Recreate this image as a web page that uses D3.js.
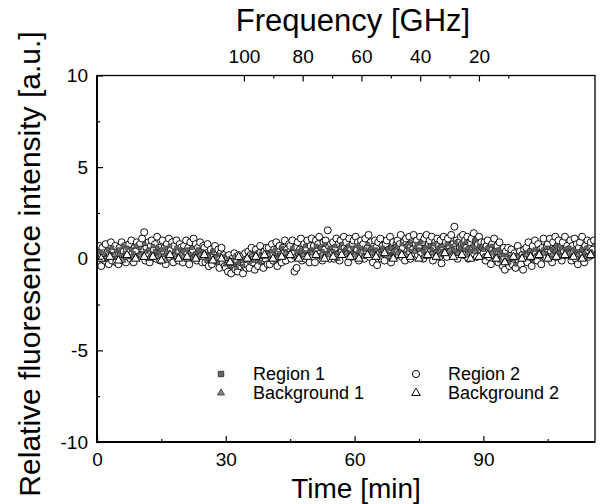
<!DOCTYPE html>
<html lang="en">
<head>
  <meta charset="UTF-8">
  <title>Relative fluorescence intensity vs time</title>
  <script src="https://d3js.org/d3.v7.min.js"></script>
  <style>
    body { margin: 0; background: #fff; }
    text { font-family: "Liberation Sans", Arial, sans-serif; fill: #000; }
  </style>
</head>
<body>
  <svg id="chart" width="601" height="504"></svg>

  <script>
    // Region 2 (open circles), one point every 0.25 min starting at t = 0
    const region2Step = 0.25;
    const region2 = [
      0.5, -0.2, 0.7, 0.1, -0.4, 0.6, 0.3, -0.1, 0.8, 0.0, 0.4, -0.3, 0.2, 0.9, -0.1, 0.5, 0.1, 0.7, -0.2, 0.3,
      -0.3, 0.6, 0.2, 0.9, -0.1, 0.4, 0.7, -0.2, 0.5, 0.1, 0.8, 0.0, 1.0, 0.3, -0.2, 0.6, 0.4, 0.9, 0.1, 0.7,
      0.8, 0.2, 1.1, 0.5, 1.45, -0.1, 0.6, 0.3, 0.9, -0.2, 0.7, 1.0, 0.1, 0.5, 0.8, 0.0, 1.2, 0.4, 0.6, -0.1,
      0.4, 1.0, 0.0, 0.6, -0.3, 0.8, 0.3, 1.1, 0.1, 0.5, 0.9, -0.2, 0.7, 0.2, 1.0, 0.4, -0.1, 0.8, 0.6, 0.2,
      -0.2, 0.7, 0.4, 1.0, 0.0, 0.6, -0.3, 0.9, 0.3, 0.5, 1.1, 0.1, 0.8, -0.1, 0.6, 0.2, 0.9, 0.4, -0.2, 0.7,
      0.6, -0.2, 0.3, 0.8, -0.4, 0.2, 0.5, -0.3, 0.1, 0.4, 0.7, -0.1, 0.0, 0.5, -0.5, 0.3, 0.6, -0.2, 0.2, -0.4,
      -0.5, 0.1, -0.7, 0.2, -0.3, -0.8, 0.0, -0.4, 0.3, -0.6, -0.1, -0.7, 0.2, -0.4, -0.2, 0.1, -0.8, -0.3, 0.3, -0.5,
      -0.3, 0.4, -0.5, 0.2, 0.6, -0.2, 0.1, -0.6, 0.5, 0.0, -0.4, 0.3, 0.7, -0.1, 0.2, -0.5, 0.4, 0.0, 0.6, -0.3,
      0.6, -0.3, 0.3, 0.8, -0.1, 0.5, 0.0, 0.9, -0.4, 0.4, 0.7, 0.1, -0.2, 0.6, 0.3, 1.0, -0.1, 0.5, 0.2, 0.8,
      0.7, 0.0, 1.0, 0.3, -0.7, 0.6, -0.5, 0.9, 0.2, 0.5, 1.1, -0.1, 0.4, 0.8, 0.0, 0.6, 1.0, 0.2, -0.2, 0.7,
      1.1, 0.1, 0.7, -0.2, 1.0, 0.4, 0.8, 1.2, 0.3, 0.6, -0.1, 0.9, 0.5, 1.0, 0.2, 1.55, 0.7, 0.0, 0.8, 0.4,
      0.9, 0.0, 0.6, 1.1, 0.2, 0.8, -0.1, 1.0, 0.4, 0.7, 1.2, 0.3, 0.9, 0.5, -0.2, 1.1, 0.6, 0.1, 0.8, 1.0,
      0.2, 1.2, 0.5, 0.9, -0.1, 0.7, 1.0, 0.3, 0.8, 0.0, 1.1, 0.4, 0.6, 1.3, 0.1, 0.9, 0.5, -0.2, 0.7, 1.0,
      0.6, -0.35, 0.9, 0.3, 1.1, 0.0, 0.7, 0.4, -0.1, 0.8, 1.0, 0.2, 0.5, 1.2, -0.2, 0.6, 0.9, 0.1, 0.4, 0.8,
      1.0, 0.2, 0.8, 1.3, 0.1, 0.6, 0.9, -0.1, 1.1, 0.4, 0.7, 1.2, 0.0, 0.9, 0.5, 1.3, 0.3, 0.8, 1.0, 0.2,
      0.7, 1.2, 0.3, 0.9, 0.0, 1.1, 0.5, 1.3, 0.2, 0.8, 1.0, 0.4, 1.2, -0.1, 0.6, 0.9, 0.3, 1.1, 0.7, 0.1,
      1.0, -0.25, 0.6, 1.2, 0.3, 0.9, 0.1, 1.1, 0.7, 0.4, 1.3, 0.2, 0.8, 1.75, 0.5, 1.0, 0.0, 0.9, 0.6, 1.2,
      0.8, 1.3, 0.2, 1.0, 0.6, 1.2, 0.0, 0.9, 0.5, 1.1, 0.3, 1.4, 0.7, 1.0, 0.1, 0.8, 1.2, 0.4, 0.9, 0.6,
      0.3, 0.9, -0.1, 0.7, 1.0, 0.1, 0.6, -0.3, 0.8, 0.2, 1.1, 0.4, 0.0, 0.7, -0.2, 0.9, 0.3, 0.5, -0.4, 0.6,
      -0.6, 0.4, -0.2, 0.6, -0.4, 0.2, 0.5, -0.3, 0.0, 0.3, -0.5, 0.1, 0.7, -0.1, 0.4, -0.3, 0.2, -0.6, 0.5, 0.0,
      0.6, -0.2, 0.9, 0.1, 0.4, -0.4, 0.7, 0.0, 1.0, 0.3, -0.1, 0.8, 0.2, 0.5, -0.3, 0.6, 1.1, 0.1, 0.4, 0.7,
      0.8, 0.0, 1.1, 0.4, -0.2, 0.9, 0.5, 1.2, 0.1, 0.7, 1.0, 0.3, 0.6, -0.1, 0.9, 0.4, 1.2, 0.2, 0.7, 0.5,
      0.3, 1.0, -0.1, 0.7, 0.4, 1.1, 0.0, 0.8, -0.3, 0.6, 0.9, 0.2, 1.2, 0.5, -0.2, 0.7, 0.3, 1.0, 0.1, 0.6,
      0.9, 0.2, 0.5, 1.0
    ];

    // Region 1 (small filled squares), one point every 0.5 min
    const region1Step = 0.5;
    const region1 = [
      0.1, 0.4, -0.1, 0.3, 0.0, 0.5, 0.2, 0.6, 0.1, 0.4,
      0.5, 0.2, 0.7, 0.3, 0.6, 0.1, 0.5, 0.3, 0.7, 0.2,
      0.6, 0.3, 0.8, 0.4, 0.5, 0.2, 0.7, 0.4, 0.6, 0.3,
      0.5, 0.2, 0.6, 0.3, 0.7, 0.1, 0.4, 0.6, 0.2, 0.5,
      0.4, 0.0, 0.5, 0.2, 0.6, 0.1, 0.3, 0.5, 0.2, 0.4,
      0.3, -0.1, 0.2, 0.0, 0.4, 0.1, -0.2, 0.2, 0.0, 0.1,
      -0.3, 0.0, -0.4, -0.1, -0.3, -0.5, -0.2, 0.0, -0.4, -0.1,
      0.1, -0.2, 0.2, -0.1, 0.3, 0.0, -0.2, 0.2, 0.1, 0.3,
      0.1, 0.4, 0.0, 0.5, 0.2, 0.3, 0.6, 0.1, 0.4, 0.2,
      0.3, 0.6, 0.1, 0.4, 0.2, 0.5, 0.3, 0.7, 0.2, 0.4,
      0.5, 0.3, 0.7, 0.2, 0.6, 0.4, 0.8, 0.3, 0.5, 0.6,
      0.4, 0.7, 0.3, 0.6, 0.8, 0.4, 0.5, 0.7, 0.3, 0.6,
      0.3, 0.7, 0.4, 0.6, 0.2, 0.5, 0.8, 0.4, 0.6, 0.3,
      0.5, 0.1, 0.4, 0.6, 0.3, 0.5, 0.2, 0.6, 0.4, 0.7,
      0.6, 0.4, 0.8, 0.3, 0.7, 0.5, 0.9, 0.4, 0.6, 0.8,
      0.5, 0.9, 0.4, 0.6, 0.3, 0.7, 0.5, 0.8, 0.4, 0.6,
      0.7, 0.4, 0.6, 0.8, 0.3, 0.7, 0.5, 0.9, 0.4, 0.6,
      0.8, 0.5, 0.9, 0.6, 0.4, 0.7, 1.0, 0.5, 0.7, 0.6,
      0.5, 0.2, 0.6, 0.3, 0.7, 0.4, 0.1, 0.5, 0.3, 0.2,
      -0.1, 0.2, -0.2, 0.1, 0.0, -0.3, 0.2, 0.0, 0.1, 0.3,
      0.3, 0.1, 0.4, 0.0, 0.5, 0.2, 0.4, 0.1, 0.5, 0.3,
      0.6, 0.2, 0.5, 0.4, 0.7, 0.3, 0.6, 0.2, 0.5, 0.4,
      0.6, 0.2, 0.5, 0.3, 0.4, 0.1, 0.5, 0.3, 0.6, 0.2,
      0.4, 0.3
    ];

    // Backgrounds, one point every 2 min (background 2 offset by 1 min)
    const bgStep = 2;
    const bg1Start = 0;
    const background1 = [
      0.1, 0.0, 0.2, -0.1, 0.1, 0.2, 0.0, 0.1, -0.1, 0.2,
      0.1, 0.0, 0.2, 0.1, -0.2, 0.0, 0.1, -0.1, 0.2, 0.1,
      0.2, 0.0, 0.3, 0.1, 0.2, 0.3, 0.1, 0.2, 0.0, 0.3,
      0.2, 0.1, 0.3, 0.2, 0.1, 0.3, 0.2, 0.4, 0.1, 0.3,
      0.2, 0.4, 0.3, 0.2, 0.4, 0.1, 0.3, -0.1, 0.0, 0.1,
      0.2, 0.1, 0.3, 0.2, 0.1, 0.3, 0.2, 0.1
    ];
    const bg2Start = 1;
    const background2 = [
      0.0, 0.1, -0.1, 0.2, 0.0, 0.1, 0.1, -0.1, 0.2, 0.0,
      0.1, 0.0, 0.2, -0.1, 0.0, -0.2, 0.1, 0.0, 0.1, 0.2,
      0.0, 0.1, 0.2, 0.0, 0.1, 0.2, 0.0, 0.1, 0.2, 0.1,
      0.0, 0.2, 0.1, 0.3, 0.0, 0.2, 0.1, 0.0, 0.2, 0.1,
      0.3, 0.1, 0.2, 0.0, 0.1, 0.2, 0.0, -0.2, 0.1, 0.0,
      0.1, 0.2, 0.0, 0.1, 0.2, 0.1, 0.0, 0.2
    ];

    const timeTicks = [0, 30, 60, 90];
    const timeMinor = [15, 45, 75, 105];
    const yTicks = [-10, -5, 0, 5, 10];
    const yMinor = [-7.5, -2.5, 2.5, 7.5];
    const freqTicks = [100, 80, 60, 40, 20];
    const freqMinor = [90, 70, 50, 30, 10];

    const plotLeft = 97, plotRight = 595, plotTop = 75.5, plotBottom = 442;

    const x = d3.scaleLinear().domain([0, 116]).range([plotLeft, plotRight]);
    const y = d3.scaleLinear().domain([-10, 10]).range([plotBottom, plotTop]);
    // top axis: frequency sweeps down linearly with time
    const xf = d3.scaleLinear().domain([150, -19.5]).range([plotLeft, plotRight]);

    const svg = d3.select("#chart");

    svg.append("clipPath").attr("id", "plotClip")
      .append("rect")
      .attr("x", plotLeft).attr("y", plotTop)
      .attr("width", plotRight - plotLeft).attr("height", plotBottom - plotTop);

    const toPoints = (vals, start, step) => vals.map((v, i) => ({ t: start + i * step, v }));

    const plot = svg.append("g").attr("clip-path", "url(#plotClip)");

    // Region 2 open circles
    plot.append("g").selectAll("circle")
      .data(toPoints(region2, 0, region2Step))
      .join("circle")
      .attr("cx", d => x(d.t))
      .attr("cy", d => y(d.v))
      .attr("r", 3.5)
      .attr("fill", "#fff").attr("stroke", "#000").attr("stroke-width", 0.95);

    // Region 1 squares
    plot.append("g").selectAll("path")
      .data(toPoints(region1, 0, region1Step))
      .join("path")
      .attr("transform", d => `translate(${x(d.t)},${y(d.v)})`)
      .attr("d", d3.symbol(d3.symbolSquare, 14))
      .attr("fill", "#666").attr("stroke", "#333").attr("stroke-width", 0.6);

    // Background 1 small triangles
    plot.append("g").selectAll("path")
      .data(toPoints(background1, bg1Start, bgStep))
      .join("path")
      .attr("transform", d => `translate(${x(d.t)},${y(d.v)})`)
      .attr("d", d3.symbol(d3.symbolTriangle, 16))
      .attr("fill", "#888").attr("stroke", "#222").attr("stroke-width", 0.7);

    // Background 2 open triangles
    plot.append("g").selectAll("path")
      .data(toPoints(background2, bg2Start, bgStep))
      .join("path")
      .attr("transform", d => `translate(${x(d.t)},${y(d.v)})`)
      .attr("d", d3.symbol(d3.symbolTriangle, 30))
      .attr("fill", "#fff").attr("stroke", "#000").attr("stroke-width", 1);

    // --- axes (ticks point inward) ---
    const fontSize = "19px";
    const plain = d => String(d);   // ASCII hyphen for negatives, like the original

    svg.append("g").attr("transform", `translate(0,${plotBottom})`)
      .call(d3.axisBottom(x).tickValues(timeTicks).tickFormat(plain).tickSize(-6).tickPadding(10.5));
    svg.append("g").attr("transform", `translate(0,${plotBottom})`)
      .call(d3.axisBottom(x).tickValues(timeMinor).tickSize(-3).tickFormat(""));

    svg.append("g").attr("transform", `translate(${plotLeft},0)`)
      .call(d3.axisLeft(y).tickValues(yTicks).tickFormat(plain).tickSize(-6).tickPadding(9));
    svg.append("g").attr("transform", `translate(${plotLeft},0)`)
      .call(d3.axisLeft(y).tickValues(yMinor).tickSize(-3).tickFormat(""));

    svg.append("g").attr("transform", `translate(0,${plotTop})`)
      .call(d3.axisTop(xf).tickValues(freqTicks).tickFormat(plain).tickSize(-6).tickPadding(13));
    svg.append("g").attr("transform", `translate(0,${plotTop})`)
      .call(d3.axisTop(xf).tickValues(freqMinor).tickSize(-3).tickFormat(""));

    svg.selectAll(".domain").remove();
    svg.selectAll(".tick line").attr("stroke", "#000").attr("stroke-width", 1.2);
    svg.selectAll(".tick text")
      .style("font-family", '"Liberation Sans", Arial, sans-serif')
      .style("font-size", fontSize).attr("fill", "#000");

    // frame
    svg.append("rect")
      .attr("x", plotLeft).attr("y", plotTop)
      .attr("width", plotRight - plotLeft).attr("height", plotBottom - plotTop)
      .attr("fill", "none").attr("stroke", "#000").attr("stroke-width", 1.3);
    svg.append("path")
      .attr("d", `M${plotLeft},${plotTop}V${plotBottom}H${plotRight}`)
      .attr("fill", "none").attr("stroke", "#000").attr("stroke-width", 2);

    // --- titles ---
    svg.append("text")
      .attr("x", 356).attr("y", 498)
      .attr("text-anchor", "middle")
      .style("font-size", "28px")
      .text("Time [min]");

    svg.append("text")
      .attr("x", 353).attr("y", 31)
      .attr("text-anchor", "middle")
      .style("font-size", "31px")
      .text("Frequency [GHz]");

    svg.append("text")
      .attr("transform", "translate(40,264) rotate(-90)")
      .attr("text-anchor", "middle")
      .style("font-size", "30px")
      .text("Relative fluoresence intensity [a.u.]");

    // --- legend ---
    const legendItems = [
      { label: "Region 1", sx: 221, sy: 374, kind: "square" },
      { label: "Background 1", sx: 221, sy: 393, kind: "smallTri" },
      { label: "Region 2", sx: 416, sy: 374, kind: "circle" },
      { label: "Background 2", sx: 416, sy: 393, kind: "openTri" }
    ];
    const legend = svg.append("g");
    legendItems.forEach(item => {
      const g = legend.append("g").attr("transform", `translate(${item.sx},${item.sy})`);
      if (item.kind === "square") {
        g.append("path").attr("d", d3.symbol(d3.symbolSquare, 30))
          .attr("fill", "#666").attr("stroke", "#222").attr("stroke-width", 0.8);
      } else if (item.kind === "smallTri") {
        g.append("path").attr("d", d3.symbol(d3.symbolTriangle, 22))
          .attr("fill", "#888").attr("stroke", "#222").attr("stroke-width", 0.7);
      } else if (item.kind === "circle") {
        g.append("circle").attr("r", 3.6)
          .attr("fill", "#fff").attr("stroke", "#000").attr("stroke-width", 1);
      } else {
        g.append("path").attr("d", d3.symbol(d3.symbolTriangle, 32))
          .attr("fill", "#fff").attr("stroke", "#000").attr("stroke-width", 1);
      }
      g.append("text")
        .attr("x", 32).attr("dy", "0.36em")
        .style("font-size", "18px")
        .text(item.label);
    });
  </script>
</body>
</html>
